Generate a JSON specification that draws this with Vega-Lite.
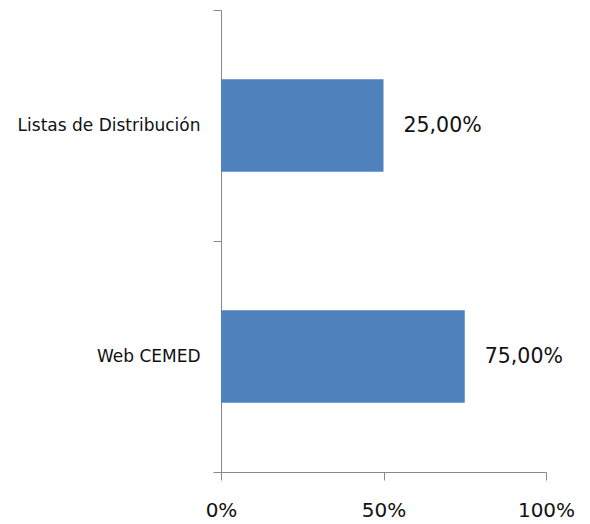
{
  "$schema": "https://vega.github.io/schema/vega-lite/v6.json",
  "autosize": "none",
  "padding": {"left": 221, "top": 10, "right": 44, "bottom": 52},
  "width": 325,
  "height": 462,
  "background": "white",
  "config": {"view": {"stroke": null}, "font": "DejaVu Sans"},
  "data": {"values": [
    {"category": "Listas de Distribución", "value": 0.5, "label": "25,00%"},
    {"category": "Web CEMED", "value": 0.75, "label": "75,00%"}
  ]},
  "encoding": {
    "y": {"field": "category", "type": "nominal", "sort": null,
      "scale": {"paddingInner": 0, "paddingOuter": 0},
      "axis": {"title": null, "tickBand": "extent", "tickSize": 8, "tickColor": "#888888", "domainColor": "#888888",
        "labelFont": "DejaVu Sans", "labelFontSize": 17, "labelColor": "#111111", "labelPadding": 13, "labelLimit": 400}},
    "x": {"field": "value", "type": "quantitative",
      "scale": {"domain": [0, 1]},
      "axis": {"title": null, "values": [0, 0.5, 1], "format": "%", "grid": false, "tickSize": 8,
        "tickColor": "#888888", "domainColor": "#888888", "labelFont": "DejaVu Sans", "labelFontSize": 20,
        "labelColor": "#111111", "labelPadding": 20, "labelFlush": false}}
  },
  "layer": [
    {"mark": {"type": "bar", "color": "#4F81BD", "height": {"band": 0.4}}},
    {"mark": {"type": "text", "align": "left", "baseline": "middle", "dx": 20, "font": "DejaVu Sans", "fontSize": 20.5, "color": "#111111"},
      "encoding": {"text": {"field": "label"}}}
  ]
}
